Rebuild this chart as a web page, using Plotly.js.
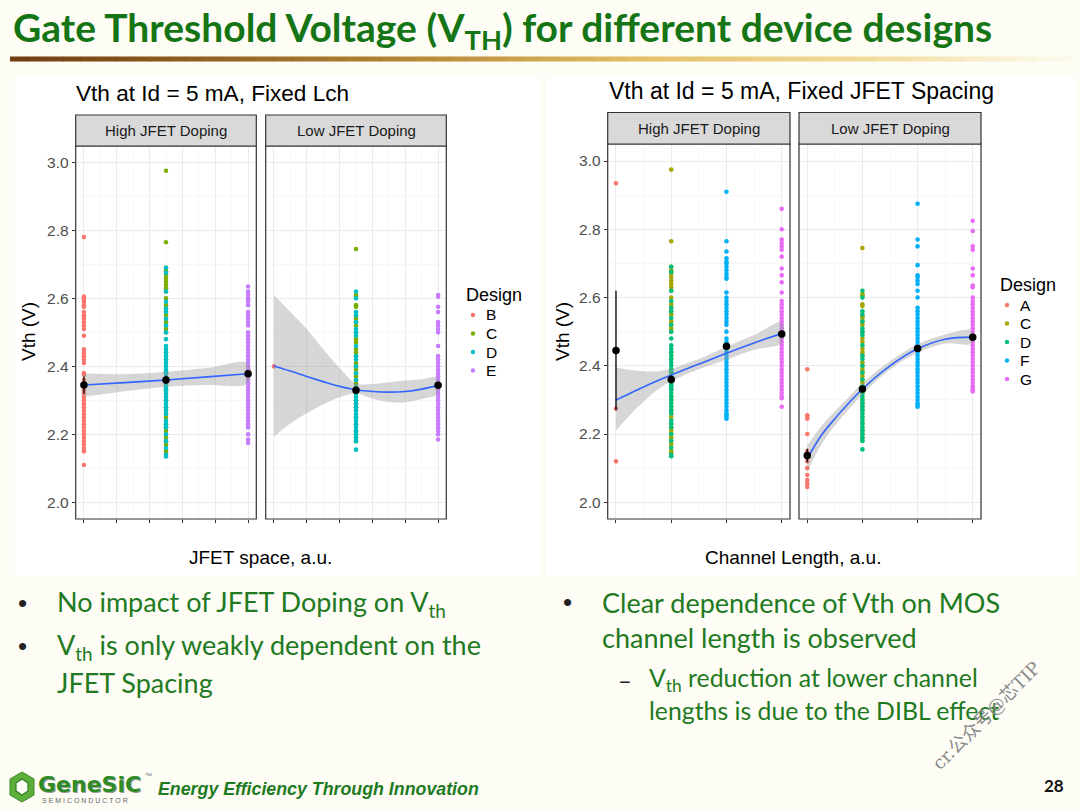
<!DOCTYPE html>
<html>
<head>
<meta charset="utf-8">
<script src="https://cdn.plot.ly/plotly-3.0.1.min.js"></script>
<style>
  html, body { margin: 0; padding: 0; background: #FDFCF5; }
  #slide { width: 1080px; height: 810px; }
</style>
</head>
<body>
<div id="slide"></div>
<script>
// ---- data ----
// x positions (a.u.)
var xJfet = [0, 5, 10];
var xLch = [0, 1, 2, 3];

var designsLeft = ['B', 'C', 'D', 'E'];
var designsRight = ['A', 'C', 'D', 'F', 'G'];

// Vth (V) samples, High JFET Doping
var vthB_high = [2.78, 2.605, 2.60, 2.595, 2.59, 2.58, 2.575, 2.56, 2.55, 2.545, 2.54, 2.53, 2.52, 2.51, 2.49,
  2.45, 2.44, 2.43, 2.42, 2.41, 2.38, 2.375, 2.36, 2.35, 2.34, 2.33, 2.32, 2.31, 2.30, 2.29, 2.28, 2.27,
  2.26, 2.25, 2.24, 2.23, 2.22, 2.21, 2.20, 2.19, 2.18, 2.17, 2.16, 2.15, 2.11];
var vthC_high = [2.975, 2.765, 2.69, 2.68, 2.67, 2.66, 2.65, 2.64, 2.63, 2.62, 2.60, 2.58, 2.57, 2.56, 2.55,
  2.53, 2.52, 2.51, 2.50, 2.44, 2.42, 2.38, 2.36, 2.33, 2.31, 2.30, 2.28, 2.27, 2.26, 2.25, 2.23, 2.22,
  2.21, 2.20, 2.19, 2.18, 2.17, 2.15, 2.145];
var vthD_high = [2.69, 2.675, 2.62, 2.59, 2.57, 2.56, 2.54, 2.52, 2.50, 2.48, 2.46, 2.45, 2.44, 2.43, 2.42,
  2.41, 2.40, 2.39, 2.385, 2.38, 2.37, 2.36, 2.35, 2.345, 2.34, 2.335, 2.33, 2.32, 2.31, 2.30, 2.29, 2.28,
  2.27, 2.26, 2.24, 2.23, 2.22, 2.20, 2.18, 2.16, 2.14, 2.135];
var vthE_high = [2.635, 2.62, 2.61, 2.60, 2.595, 2.59, 2.58, 2.56, 2.55, 2.54, 2.53, 2.52, 2.50, 2.49, 2.48,
  2.47, 2.46, 2.45, 2.44, 2.43, 2.42, 2.41, 2.40, 2.39, 2.38, 2.37, 2.36, 2.35, 2.34, 2.33, 2.32, 2.31,
  2.30, 2.29, 2.28, 2.27, 2.26, 2.25, 2.24, 2.23, 2.22, 2.20, 2.185, 2.175];
var vthA_high = [2.935, 2.275, 2.12];
var vthF_high = [2.91, 2.765, 2.735, 2.715, 2.705, 2.70, 2.69, 2.68, 2.67, 2.66, 2.655, 2.615, 2.60, 2.59,
  2.58, 2.57, 2.56, 2.55, 2.54, 2.53, 2.52, 2.50, 2.48, 2.47, 2.46, 2.45, 2.44, 2.43, 2.42, 2.41, 2.40,
  2.39, 2.38, 2.37, 2.36, 2.35, 2.34, 2.33, 2.32, 2.31, 2.30, 2.29, 2.28, 2.27, 2.26, 2.255, 2.25, 2.245];
var vthG_high = [2.86, 2.80, 2.77, 2.76, 2.75, 2.74, 2.72, 2.685, 2.665, 2.645, 2.615, 2.59, 2.58, 2.57,
  2.56, 2.55, 2.54, 2.53, 2.52, 2.51, 2.50, 2.49, 2.48, 2.47, 2.46, 2.45, 2.44, 2.43, 2.42, 2.41, 2.40,
  2.39, 2.38, 2.37, 2.36, 2.35, 2.34, 2.33, 2.32, 2.31, 2.305, 2.28];

// Vth (V) samples, Low JFET Doping
var vthB_low = [2.40];
var vthC_low = [2.745, 2.61, 2.605, 2.58, 2.575, 2.545, 2.54, 2.53, 2.52, 2.50, 2.48, 2.47, 2.45, 2.44,
  2.43, 2.41, 2.40, 2.39, 2.38, 2.37, 2.36, 2.35, 2.34, 2.33, 2.32, 2.30, 2.29, 2.28, 2.27, 2.25, 2.23,
  2.21, 2.20, 2.19, 2.18];
var vthD_low = [2.62, 2.60, 2.56, 2.55, 2.53, 2.51, 2.50, 2.49, 2.46, 2.43, 2.42, 2.40, 2.38, 2.36, 2.34,
  2.33, 2.32, 2.31, 2.30, 2.29, 2.28, 2.27, 2.26, 2.25, 2.24, 2.23, 2.22, 2.21, 2.20, 2.19, 2.18, 2.155];
var vthE_low = [2.61, 2.605, 2.575, 2.56, 2.53, 2.52, 2.51, 2.50, 2.46, 2.43, 2.42, 2.41, 2.40, 2.39, 2.38,
  2.37, 2.36, 2.35, 2.34, 2.33, 2.32, 2.31, 2.30, 2.29, 2.28, 2.27, 2.26, 2.25, 2.24, 2.23, 2.22, 2.21,
  2.20, 2.185];
var vthA_low = [2.39, 2.255, 2.25, 2.245, 2.20, 2.15, 2.14, 2.13, 2.12, 2.10, 2.08, 2.065, 2.055, 2.045];
var vthF_low = [2.875, 2.77, 2.75, 2.695, 2.665, 2.66, 2.65, 2.64, 2.62, 2.60, 2.57, 2.56, 2.55, 2.54,
  2.53, 2.52, 2.51, 2.50, 2.49, 2.48, 2.47, 2.46, 2.45, 2.44, 2.43, 2.42, 2.41, 2.40, 2.39, 2.38, 2.37,
  2.36, 2.35, 2.34, 2.33, 2.32, 2.31, 2.30, 2.29, 2.285, 2.28];
var vthG_low = [2.825, 2.795, 2.75, 2.74, 2.685, 2.665, 2.635, 2.63, 2.60, 2.59, 2.58, 2.57, 2.56, 2.55,
  2.54, 2.53, 2.52, 2.51, 2.50, 2.49, 2.48, 2.47, 2.46, 2.45, 2.44, 2.43, 2.42, 2.41, 2.40, 2.39, 2.38,
  2.37, 2.36, 2.35, 2.34, 2.335, 2.33, 2.325];

// group means and their error half-widths
var meanJfetHigh = [2.345, 2.36, 2.378];
var errJfetHigh = [0.025, 0.012, 0.01];
var xMeanJfetLow = [5, 10];
var meanJfetLow = [2.33, 2.344];
var errJfetLow = [0.01, 0.01];
var meanLchHigh = [2.445, 2.36, 2.457, 2.493];
var errLchHigh = [0.175, 0.012, 0.01, 0.01];
var meanLchLow = [2.137, 2.332, 2.451, 2.484];
var errLchLow = [0.02, 0.01, 0.01, 0.01];

// smoother + confidence band
var fitJfetHighX = [0, 2.5, 5, 7.5, 10];
var fitJfetHighY = [2.345, 2.352, 2.36, 2.369, 2.378];
var fitJfetHighLo = [2.311, 2.327, 2.34, 2.345, 2.35];
var fitJfetHighHi = [2.379, 2.377, 2.384, 2.395, 2.41];

var fitJfetLowX = [0, 1, 2, 3, 4, 5, 6, 7, 8, 9, 10];
var fitJfetLowY = [2.401, 2.386, 2.37, 2.355, 2.341, 2.331, 2.326, 2.324, 2.326, 2.333, 2.344];
var fitJfetLowLo = [2.193, 2.232, 2.262, 2.288, 2.309, 2.32, 2.305, 2.295, 2.294, 2.304, 2.32];
var fitJfetLowHi = [2.61, 2.56, 2.51, 2.45, 2.395, 2.35, 2.348, 2.353, 2.358, 2.362, 2.366];

var fitLchHighX = [0, 0.25, 0.5, 0.75, 1, 1.5, 2, 2.5, 3];
var fitLchHighY = [2.30, 2.319, 2.338, 2.356, 2.373, 2.405, 2.437, 2.467, 2.495];
var fitLchHighLo = [2.21, 2.255, 2.295, 2.33, 2.355, 2.39, 2.418, 2.447, 2.468];
var fitLchHighHi = [2.395, 2.388, 2.384, 2.384, 2.392, 2.42, 2.456, 2.49, 2.527];

var fitLchLowX = [0, 0.25, 0.5, 0.75, 1, 1.5, 2, 2.5, 3];
var fitLchLowY = [2.128, 2.195, 2.245, 2.29, 2.332, 2.4, 2.45, 2.478, 2.484];
var fitLchLowLo = [2.09, 2.168, 2.225, 2.272, 2.316, 2.389, 2.438, 2.465, 2.466];
var fitLchLowHi = [2.166, 2.222, 2.266, 2.308, 2.349, 2.413, 2.463, 2.492, 2.503];

// ggplot default hue palettes
var colLeft = {B: '#F8766D', C: '#7CAE00', D: '#00BFC4', E: '#C77CFF'};
var colRight = {A: '#F8766D', C: '#A3A500', D: '#00BF7D', F: '#00B0F6', G: '#E76BF3'};

// ---- helpers ----
var W = 1080, H = 810;
function px(x) { return x / W; }
function py(y) { return 1 - y / H; }

var traces = [];

function addPoints(xv, vals, color, n) {
    traces.push({
        type: 'scatter', mode: 'markers',
        x: vals.map(function () { return xv; }), y: vals,
        xaxis: 'x' + n, yaxis: 'y' + n,
        marker: {color: color, size: 4.6},
        hoverinfo: 'skip', showlegend: false
    });
}

function addSmooth(fx, fy, lo, hi, n) {
    traces.push({
        type: 'scatter', mode: 'lines',
        x: fx.concat(fx.slice().reverse()),
        y: hi.concat(lo.slice().reverse()),
        xaxis: 'x' + n, yaxis: 'y' + n,
        fill: 'toself', fillcolor: 'rgba(153,153,153,0.4)',
        line: {width: 0, shape: 'spline'},
        hoverinfo: 'skip', showlegend: false
    });
    traces.push({
        type: 'scatter', mode: 'lines', x: fx, y: fy,
        xaxis: 'x' + n, yaxis: 'y' + n,
        line: {color: '#3366FF', width: 1.6, shape: 'spline'},
        hoverinfo: 'skip', showlegend: false
    });
}

function addMeans(mx, my, err, n) {
    traces.push({
        type: 'scatter', mode: 'markers', x: mx, y: my,
        xaxis: 'x' + n, yaxis: 'y' + n,
        marker: {color: '#000', size: 7.5},
        error_y: {type: 'data', array: err, color: '#000', thickness: 1.3, width: 0},
        hoverinfo: 'skip', showlegend: false
    });
}

// facet 1: Fixed Lch, High JFET Doping
addPoints(xJfet[0], vthB_high, colLeft.B, '');
addPoints(xJfet[1], vthC_high, colLeft.C, '');
addPoints(xJfet[1], vthD_high, colLeft.D, '');
addPoints(xJfet[2], vthE_high, colLeft.E, '');
addSmooth(fitJfetHighX, fitJfetHighY, fitJfetHighLo, fitJfetHighHi, '');
addMeans(xJfet, meanJfetHigh, errJfetHigh, '');

// facet 2: Fixed Lch, Low JFET Doping
addPoints(xJfet[0], vthB_low, colLeft.B, 2);
addPoints(xJfet[1], vthC_low, colLeft.C, 2);
addPoints(xJfet[1], vthD_low, colLeft.D, 2);
addPoints(xJfet[2], vthE_low, colLeft.E, 2);
addSmooth(fitJfetLowX, fitJfetLowY, fitJfetLowLo, fitJfetLowHi, 2);
addMeans(xMeanJfetLow, meanJfetLow, errJfetLow, 2);

// facet 3: Fixed JFET spacing, High JFET Doping
addPoints(xLch[0], vthA_high, colRight.A, 3);
addPoints(xLch[1], vthC_high, colRight.C, 3);
addPoints(xLch[1], vthD_high, colRight.D, 3);
addPoints(xLch[2], vthF_high, colRight.F, 3);
addPoints(xLch[3], vthG_high, colRight.G, 3);
addSmooth(fitLchHighX, fitLchHighY, fitLchHighLo, fitLchHighHi, 3);
addMeans(xLch, meanLchHigh, errLchHigh, 3);

// facet 4: Fixed JFET spacing, Low JFET Doping
addPoints(xLch[0], vthA_low, colRight.A, 4);
addPoints(xLch[1], vthC_low, colRight.C, 4);
addPoints(xLch[1], vthD_low, colRight.D, 4);
addPoints(xLch[2], vthF_low, colRight.F, 4);
addPoints(xLch[3], vthG_low, colRight.G, 4);
addSmooth(fitLchLowX, fitLchLowY, fitLchLowLo, fitLchLowHi, 4);
addMeans(xLch, meanLchLow, errLchLow, 4);

// ---- axes ----
var GRID = '#EBEBEB', GRID_MINOR = '#F5F5F5';
var tickFont = {family: 'Liberation Sans, Arial, sans-serif', size: 15.5, color: '#4D4D4D'};

function xAxis(l, r, range, dtick, anchor) {
    return {
        domain: [px(l), px(r)], range: range, anchor: anchor,
        tick0: 0, dtick: dtick, showticklabels: false,
        ticks: 'outside', ticklen: 3, tickcolor: '#333', tickwidth: 1,
        showgrid: true, gridcolor: GRID, gridwidth: 1,
        minor: {dtick: dtick / 2, tick0: 0, showgrid: true, gridcolor: GRID_MINOR, gridwidth: 0.7, ticks: ''},
        zeroline: false, showline: false, fixedrange: true
    };
}
function yAxis(top, bottom, range, labels, anchor) {
    return {
        domain: [py(bottom), py(top)], range: range, anchor: anchor,
        tick0: 2.0, dtick: 0.2, tickformat: '.1f', showticklabels: labels,
        ticks: labels ? 'outside' : '', ticklen: 3, tickcolor: '#333', tickwidth: 1,
        tickfont: tickFont,
        showgrid: true, gridcolor: GRID, gridwidth: 1,
        minor: {dtick: 0.1, tick0: 2.0, showgrid: true, gridcolor: GRID_MINOR, gridwidth: 0.7, ticks: ''},
        zeroline: false, showline: false, fixedrange: true
    };
}

// facet boxes (pixels on the slide)
var boxes = [
    {l: 75.7, r: 256.3, t: 146, b: 519, st: 115, label: 'High JFET Doping'},
    {l: 265.7, r: 446.3, t: 146, b: 519, st: 115, label: 'Low JFET Doping'},
    {l: 607.7, r: 790, t: 144, b: 519, st: 112.5, label: 'High JFET Doping'},
    {l: 799, r: 981, t: 144, b: 519, st: 112.5, label: 'Low JFET Doping'}
];

var yRangeL = [1.951, 3.048], yRangeR = [1.951, 3.05];

var layout = {
    width: W, height: H,
    margin: {l: 0, r: 0, t: 0, b: 0},
    paper_bgcolor: '#FDFCF5', plot_bgcolor: '#FFFFFF',
    showlegend: false,
    xaxis: xAxis(boxes[0].l, boxes[0].r, [-0.5, 10.5], 2, 'y'),
    xaxis2: xAxis(boxes[1].l, boxes[1].r, [-0.5, 10.5], 2, 'y2'),
    xaxis3: xAxis(boxes[2].l, boxes[2].r, [-0.15, 3.15], 1, 'y3'),
    xaxis4: xAxis(boxes[3].l, boxes[3].r, [-0.15, 3.15], 1, 'y4'),
    yaxis: yAxis(boxes[0].t, boxes[0].b, yRangeL, true, 'x'),
    yaxis2: yAxis(boxes[1].t, boxes[1].b, yRangeL, false, 'x2'),
    yaxis3: yAxis(boxes[2].t, boxes[2].b, yRangeR, true, 'x3'),
    yaxis4: yAxis(boxes[3].t, boxes[3].b, yRangeR, false, 'x4'),
    shapes: [],
    annotations: []
};

var shapes = layout.shapes, ann = layout.annotations;

// white chart images behind the plots
shapes.push({type: 'rect', xref: 'paper', yref: 'paper', layer: 'below',
    x0: px(15), x1: px(540), y0: py(576), y1: py(78), fillcolor: '#FFFFFF', line: {width: 0}});
shapes.push({type: 'rect', xref: 'paper', yref: 'paper', layer: 'below',
    x0: px(546), x1: px(1076), y0: py(576), y1: py(78), fillcolor: '#FFFFFF', line: {width: 0}});

// title underline, brown to gold fading out
var barStops = [[0, [110, 62, 16]], [0.35, [176, 128, 48]], [0.6, [228, 192, 104]], [0.82, [243, 222, 160]], [1, [253, 250, 238]]];
function barColor(t) {
    for (var i = 1; i < barStops.length; i++) {
        if (t <= barStops[i][0]) {
            var a = barStops[i - 1], b = barStops[i];
            var f = (t - a[0]) / (b[0] - a[0]);
            return 'rgb(' + [0, 1, 2].map(function (k) { return Math.round(a[1][k] + f * (b[1][k] - a[1][k])); }).join(',') + ')';
        }
    }
    return 'rgb(253,250,238)';
}
var nSeg = 60, bx0 = 10, bx1 = 1070;
for (var s = 0; s < nSeg; s++) {
    shapes.push({type: 'rect', xref: 'paper', yref: 'paper', layer: 'below',
        x0: px(bx0 + (bx1 - bx0) * s / nSeg), x1: px(bx0 + (bx1 - bx0) * (s + 1) / nSeg + 0.5),
        y0: py(61.5), y1: py(56.5), fillcolor: barColor((s + 0.5) / nSeg), line: {width: 0}});
}

// panel borders and strips
var stripFont = {family: 'Liberation Sans, Arial, sans-serif', size: 15, color: '#1A1A1A'};
boxes.forEach(function (b) {
    shapes.push({type: 'rect', xref: 'paper', yref: 'paper',
        x0: px(b.l), x1: px(b.r), y0: py(b.b), y1: py(b.t), line: {color: '#333333', width: 1.2}});
    shapes.push({type: 'rect', xref: 'paper', yref: 'paper',
        x0: px(b.l), x1: px(b.r), y0: py(b.t), y1: py(b.st), fillcolor: '#D9D9D9', line: {color: '#333333', width: 1.2}});
    ann.push({xref: 'paper', yref: 'paper', x: px((b.l + b.r) / 2), y: py((b.t + b.st) / 2),
        text: b.label, showarrow: false, font: stripFont, xanchor: 'center', yanchor: 'middle'});
});

function text(x, y, t, font, xa, extra) {
    var a = {xref: 'paper', yref: 'paper', x: px(x), y: py(y), text: t, showarrow: false,
        font: font, xanchor: xa || 'left', yanchor: 'middle'};
    if (extra) { for (var k in extra) a[k] = extra[k]; }
    ann.push(a);
}

var chartFont = 'Liberation Sans, Arial, sans-serif';

// chart titles and axis titles
text(74, 93, 'Vth at Id = 5 mA, Fixed Lch', {family: chartFont, size: 22.6, color: '#000'});
text(607, 91, 'Vth at Id = 5 mA, Fixed JFET Spacing', {family: chartFont, size: 23, color: '#000'});
text(260, 557, 'JFET space, a.u.', {family: chartFont, size: 19, color: '#000'}, 'center');
text(793, 557, 'Channel Length, a.u.', {family: chartFont, size: 19, color: '#000'}, 'center');
text(28, 332, 'Vth (V)', {family: chartFont, size: 19, color: '#000'}, 'center', {textangle: -90});
text(562, 332, 'Vth (V)', {family: chartFont, size: 19, color: '#000'}, 'center', {textangle: -90});

// legends
function legend(x, yTitle, yFirst, step, names, cols) {
    text(x, yTitle, 'Design', {family: chartFont, size: 18, color: '#000'});
    names.forEach(function (nm, i) {
        var yy = yFirst + i * step;
        shapes.push({type: 'circle', xref: 'paper', yref: 'paper',
            x0: px(x + 9 - 2.2), x1: px(x + 9 + 2.2), y0: py(yy + 2.2), y1: py(yy - 2.2),
            fillcolor: cols[nm], line: {width: 0}});
        text(x + 20, yy, nm, {family: chartFont, size: 15.5, color: '#000'});
    });
}
legend(464, 295, 315, 18.5, designsLeft, colLeft);
legend(998, 285, 305, 18.5, designsRight, colRight);

// slide title
var green = '#157515';
text(11, 30, '<b>Gate Threshold Voltage (V<sub>TH</sub>) for different device designs</b>',
    {family: 'Lato, Open Sans, sans-serif', size: 39, color: green});

// bullets
var bodyFont = {family: 'Lato, Open Sans, sans-serif', size: 27, color: '#217A21'};
var subFont = {family: 'Lato, Open Sans, sans-serif', size: 24.8, color: '#217A21'};
var dotFont = {family: 'Liberation Sans, Arial, sans-serif', size: 26, color: '#222'};
text(16, 603, '•', dotFont);
text(55, 603, 'No impact of JFET Doping on V<sub>th</sub>', bodyFont);
text(16, 646, '•', dotFont);
text(55, 646, 'V<sub>th</sub> is only weakly dependent on the', bodyFont);
text(55, 682, 'JFET Spacing', bodyFont);
text(561, 602, '•', dotFont);
text(600, 602, 'Clear dependence of Vth on MOS', bodyFont);
text(600, 637, 'channel length is observed', bodyFont);
text(616, 679, '–', {family: 'Lato, sans-serif', size: 24, color: '#222'});
text(647, 679, 'V<sub>th</sub> reduction at lower channel', subFont);
text(647, 710, 'lengths is due to the DIBL effect', subFont);

// footer logo
shapes.push({type: 'path', xref: 'paper', yref: 'paper',
    path: 'M ' + px(22) + ' ' + py(772) + ' L ' + px(34) + ' ' + py(779) + ' L ' + px(34) + ' ' + py(795) +
        ' L ' + px(22) + ' ' + py(802) + ' L ' + px(10) + ' ' + py(795) + ' L ' + px(10) + ' ' + py(779) + ' Z',
    fillcolor: '#5DAE3A', line: {color: '#3C8A28', width: 1}});
shapes.push({type: 'path', xref: 'paper', yref: 'paper',
    path: 'M ' + px(22) + ' ' + py(779) + ' L ' + px(28) + ' ' + py(783) + ' L ' + px(28) + ' ' + py(791) +
        ' L ' + px(22) + ' ' + py(795) + ' L ' + px(16) + ' ' + py(791) + ' L ' + px(16) + ' ' + py(783) + ' Z',
    fillcolor: '#FDFCF5', line: {color: '#2E7D20', width: 1.2}});
text(36, 784, '<b>GeneSiC</b>', {family: 'DejaVu Sans, sans-serif', size: 22, color: '#2E8B25',
    shadow: '1px 1px 0 #9A9A9A'});
text(143, 775, '™', {family: chartFont, size: 7, color: '#777'});
text(40, 800, 'S E M I C O N D U C T O R', {family: chartFont, size: 7, color: '#666'});
text(156, 789, '<b><i>Energy Efficiency Through Innovation</i></b>',
    {family: 'Liberation Sans, Arial, sans-serif', size: 17.8, color: '#1E7B1E'});
text(1066, 785, '<b>28</b>', {family: 'Lato, sans-serif', size: 17, color: '#111'}, 'right');

// watermark
text(986, 715, 'cr.公众号@芯TIP', {family: 'DejaVu Serif, Noto Sans CJK SC, serif', size: 18, color: '#8A8A8A'},
    'center', {textangle: -45});

Plotly.newPlot('slide', traces, layout, {staticPlot: true, displayModeBar: false});
</script>
</body>
</html>
